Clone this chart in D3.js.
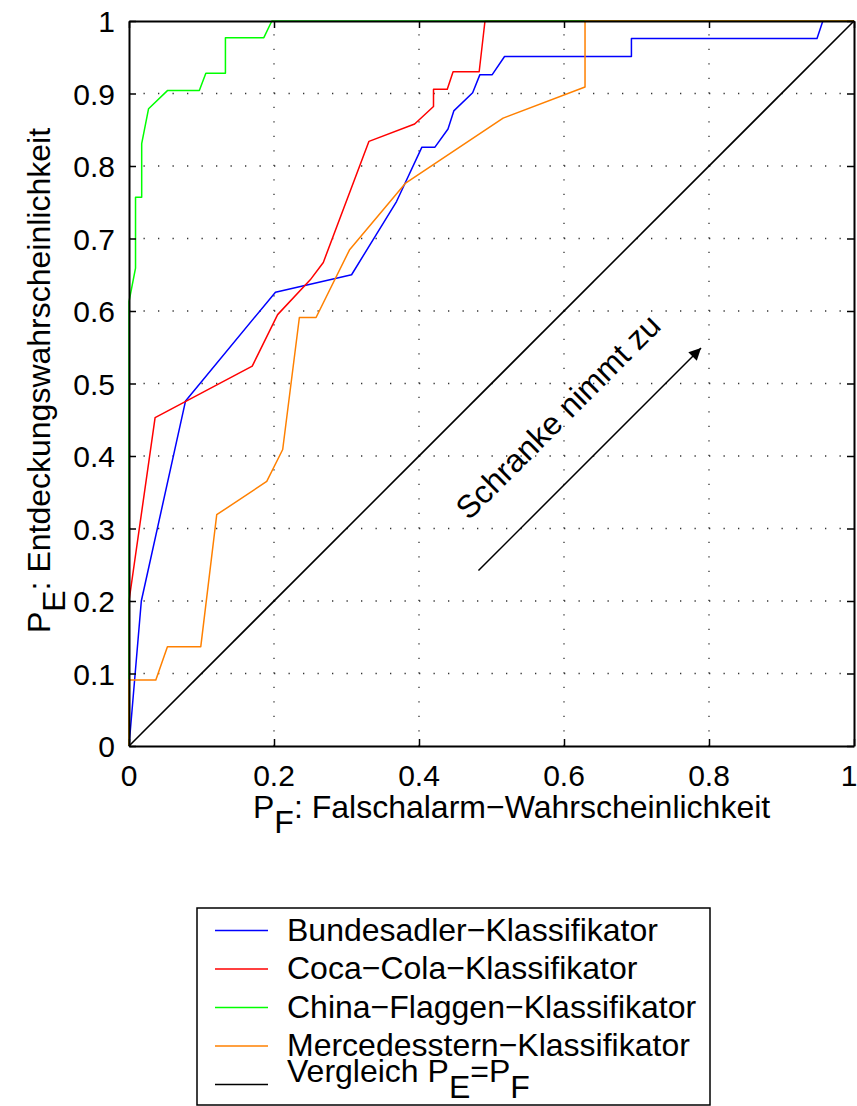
<!DOCTYPE html>
<html>
<head>
<meta charset="utf-8">
<script src="https://cdn.jsdelivr.net/npm/d3@7"></script>
<style>
  body { margin: 0; background: #fff; }
  svg text { font-family: "Liberation Sans", Arial, Helvetica, sans-serif; fill: #000; }
</style>
</head>
<body>
<div class="diagram"></div>
<script>
// ROC-Kurven der Klassifikatoren (P_F, P_E)
const bundesadlerX = [0, 0.017, 0.078, 0.202, 0.307, 0.369, 0.404, 0.422, 0.440, 0.448, 0.474, 0.484, 0.501, 0.518, 0.693, 0.693, 0.949, 0.957, 1];
const bundesadlerY = [0, 0.200, 0.476, 0.626, 0.650, 0.751, 0.826, 0.826, 0.851, 0.876, 0.901, 0.926, 0.926, 0.951, 0.951, 0.976, 0.976, 1, 1];

const cocaColaX = [0, 0, 0.036, 0.170, 0.205, 0.250, 0.268, 0.331, 0.394, 0.420, 0.420, 0.439, 0.447, 0.483, 0.491, 1];
const cocaColaY = [0, 0.200, 0.453, 0.524, 0.595, 0.643, 0.667, 0.834, 0.858, 0.882, 0.906, 0.906, 0.930, 0.930, 1, 1];

const chinaX = [0, 0, 0.009, 0.009, 0.0175, 0.0175, 0.027, 0.053, 0.097, 0.106, 0.133, 0.133, 0.186, 0.197, 1];
const chinaY = [0, 0.613, 0.659, 0.757, 0.757, 0.831, 0.879, 0.904, 0.904, 0.928, 0.928, 0.977, 0.977, 1, 1];

const mercedesX = [0, 0, 0.037, 0.053, 0.099, 0.121, 0.190, 0.212, 0.235, 0.258, 0.304, 0.381, 0.516, 0.629, 0.629, 1];
const mercedesY = [0, 0.091, 0.091, 0.137, 0.137, 0.319, 0.365, 0.409, 0.591, 0.591, 0.684, 0.776, 0.866, 0.909, 1, 1];

const vergleichX = [0, 1];
const vergleichY = [0, 1];

const xTicks = [0, 0.2, 0.4, 0.6, 0.8, 1];
const yTicks = [0, 0.1, 0.2, 0.3, 0.4, 0.5, 0.6, 0.7, 0.8, 0.9, 1];

const legendNames = ["Bundesadler\u2212Klassifikator", "Coca\u2212Cola\u2212Klassifikator", "China\u2212Flaggen\u2212Klassifikator", "Mercedesstern\u2212Klassifikator", "Vergleich"];

const arrowFrom = [0.482, 0.242];
const arrowTo = [0.789, 0.549];
const noteAt = [0.469, 0.310];
const noteText = "Schranke nimmt zu";

const ROC = {
  w: 857,
  h: 1106,
  left: 129,
  right: 854,
  top: 21,
  bottom: 746,
  fs: 32,
  tickFs: 30,
  draw: () => {
    const series = [
      { x: bundesadlerX, y: bundesadlerY, color: "#0000ff" },
      { x: cocaColaX, y: cocaColaY, color: "#ff0000" },
      { x: chinaX, y: chinaY, color: "#00ff00" },
      { x: mercedesX, y: mercedesY, color: "#ff8000" },
      { x: vergleichX, y: vergleichY, color: "#000000" }
    ];

    const xScale = d3.scaleLinear().domain([0, 1]).range([ROC.left, ROC.right]);
    const yScale = d3.scaleLinear().domain([0, 1]).range([ROC.bottom, ROC.top]);

    const svg = d3.select(".diagram")
                  .append("svg")
                  .attr("width", ROC.w)
                  .attr("height", ROC.h);

    // dotted grid
    const grid = svg.append("g");
    grid.selectAll(".gx")
        .data(xTicks.slice(1, -1))
        .enter()
        .append("line")
        .attr("x1", d => xScale(d)).attr("x2", d => xScale(d))
        .attr("y1", ROC.bottom).attr("y2", ROC.top)
        .attr("stroke", "#333").attr("stroke-width", 1.3)
        .attr("stroke-dasharray", "1.3,13.2");
    grid.selectAll(".gy")
        .data(yTicks.slice(1, -1))
        .enter()
        .append("line")
        .attr("y1", d => yScale(d)).attr("y2", d => yScale(d))
        .attr("x1", ROC.left).attr("x2", ROC.right)
        .attr("stroke", "#333").attr("stroke-width", 1.3)
        .attr("stroke-dasharray", "1.3,13.2");

    // curves
    const line = d3.line().x(d => xScale(d[0])).y(d => yScale(d[1]));
    svg.selectAll(".curve")
       .data(series)
       .enter()
       .append("path")
       .attr("d", s => line(s.x.map((v, i) => [v, s.y[i]])))
       .attr("fill", "none")
       .attr("stroke", s => s.color)
       .attr("stroke-width", s => s.color === "#000000" ? 1.6 : 1.5)
       .attr("stroke-linejoin", "round");

    // axes: inward ticks on all sides
    const tl = 7;
    svg.append("g").attr("transform", `translate(0,${ROC.bottom})`)
       .call(d3.axisBottom(xScale).tickValues(xTicks).tickSizeInner(-tl).tickSizeOuter(0).tickFormat(""));
    svg.append("g").attr("transform", `translate(0,${ROC.top})`)
       .call(d3.axisTop(xScale).tickValues(xTicks).tickSizeInner(-tl).tickSizeOuter(0).tickFormat(""));
    svg.append("g").attr("transform", `translate(${ROC.left},0)`)
       .call(d3.axisLeft(yScale).tickValues(yTicks).tickSizeInner(-tl).tickSizeOuter(0).tickFormat(""));
    svg.append("g").attr("transform", `translate(${ROC.right},0)`)
       .call(d3.axisRight(yScale).tickValues(yTicks).tickSizeInner(-tl).tickSizeOuter(0).tickFormat(""));
    svg.selectAll(".domain").attr("stroke", "#000").attr("stroke-width", 2);
    svg.selectAll(".tick line").attr("stroke", "#000").attr("stroke-width", 1.5);

    // tick labels
    svg.selectAll(".xl")
       .data(xTicks)
       .enter()
       .append("text")
       .attr("x", d => Math.min(xScale(d), ROC.w - 8))
       .attr("y", ROC.bottom + 40)
       .attr("text-anchor", "middle")
       .attr("font-size", ROC.tickFs)
       .text(d => d3.format("~g")(d));
    svg.selectAll(".yl")
       .data(yTicks)
       .enter()
       .append("text")
       .attr("x", ROC.left - 14)
       .attr("y", d => yScale(d) + 11)
       .attr("text-anchor", "end")
       .attr("font-size", ROC.tickFs)
       .text(d => d3.format("~g")(d));

    // axis labels with subscripts
    const xl = svg.append("text")
                  .attr("x", 253)
                  .attr("y", 818)
                  .attr("font-size", ROC.fs);
    xl.append("tspan").text("P");
    xl.append("tspan").attr("dy", 15).text("F");
    xl.append("tspan").attr("dy", -15).text(": Falschalarm\u2212Wahrscheinlichkeit");

    const yl = svg.append("text")
                  .attr("transform", `translate(50,${(ROC.top + ROC.bottom) / 2 - 3}) rotate(-90)`)
                  .attr("text-anchor", "middle")
                  .attr("font-size", ROC.fs);
    yl.append("tspan").text("P");
    yl.append("tspan").attr("dy", 15).text("E");
    yl.append("tspan").attr("dy", -15).text(": Entdeckungswahrscheinlichkeit");

    // annotation arrow
    svg.append("defs").append("marker")
       .attr("id", "head")
       .attr("viewBox", "0 0 10 10")
       .attr("refX", 10).attr("refY", 5)
       .attr("markerWidth", 22).attr("markerHeight", 12)
       .attr("markerUnits", "userSpaceOnUse")
       .attr("orient", "auto")
       .append("path")
       .attr("d", "M0,0 L10,5 L0,10 Z")
       .attr("fill", "#000");
    svg.append("line")
       .attr("x1", xScale(arrowFrom[0])).attr("y1", yScale(arrowFrom[1]))
       .attr("x2", xScale(arrowTo[0])).attr("y2", yScale(arrowTo[1]))
       .attr("stroke", "#000").attr("stroke-width", 1.5)
       .attr("marker-end", "url(#head)");
    svg.append("text")
       .attr("transform", `translate(${xScale(noteAt[0])},${yScale(noteAt[1])}) rotate(-45)`)
       .attr("font-size", ROC.fs)
       .text(noteText);

    // legend
    const lg = svg.append("g");
    lg.append("rect")
      .attr("x", 197).attr("y", 908)
      .attr("width", 513).attr("height", 197)
      .attr("fill", "#fff").attr("stroke", "#000").attr("stroke-width", 1.5);
    const rows = lg.selectAll(".row")
                   .data(series)
                   .enter()
                   .append("g")
                   .attr("transform", (d, i) => `translate(0,${930.5 + i * 38.5})`);
    rows.append("line")
        .attr("x1", 215).attr("x2", 268)
        .attr("stroke", d => d.color).attr("stroke-width", 1.5);
    rows.append("text")
        .attr("x", 287)
        .attr("y", (d, i) => i < 4 ? 10 : -3)
        .attr("font-size", ROC.fs)
        .each(function (d, i) {
          const t = d3.select(this);
          t.append("tspan").text(legendNames[i]);
          if (i === 4) {
            t.append("tspan").text(" P");
            t.append("tspan").attr("dy", 16).text("E");
            t.append("tspan").attr("dy", -16).text("=P");
            t.append("tspan").attr("dy", 16).text("F");
          }
        });
  }
};

ROC.draw();
</script>
</body>
</html>
